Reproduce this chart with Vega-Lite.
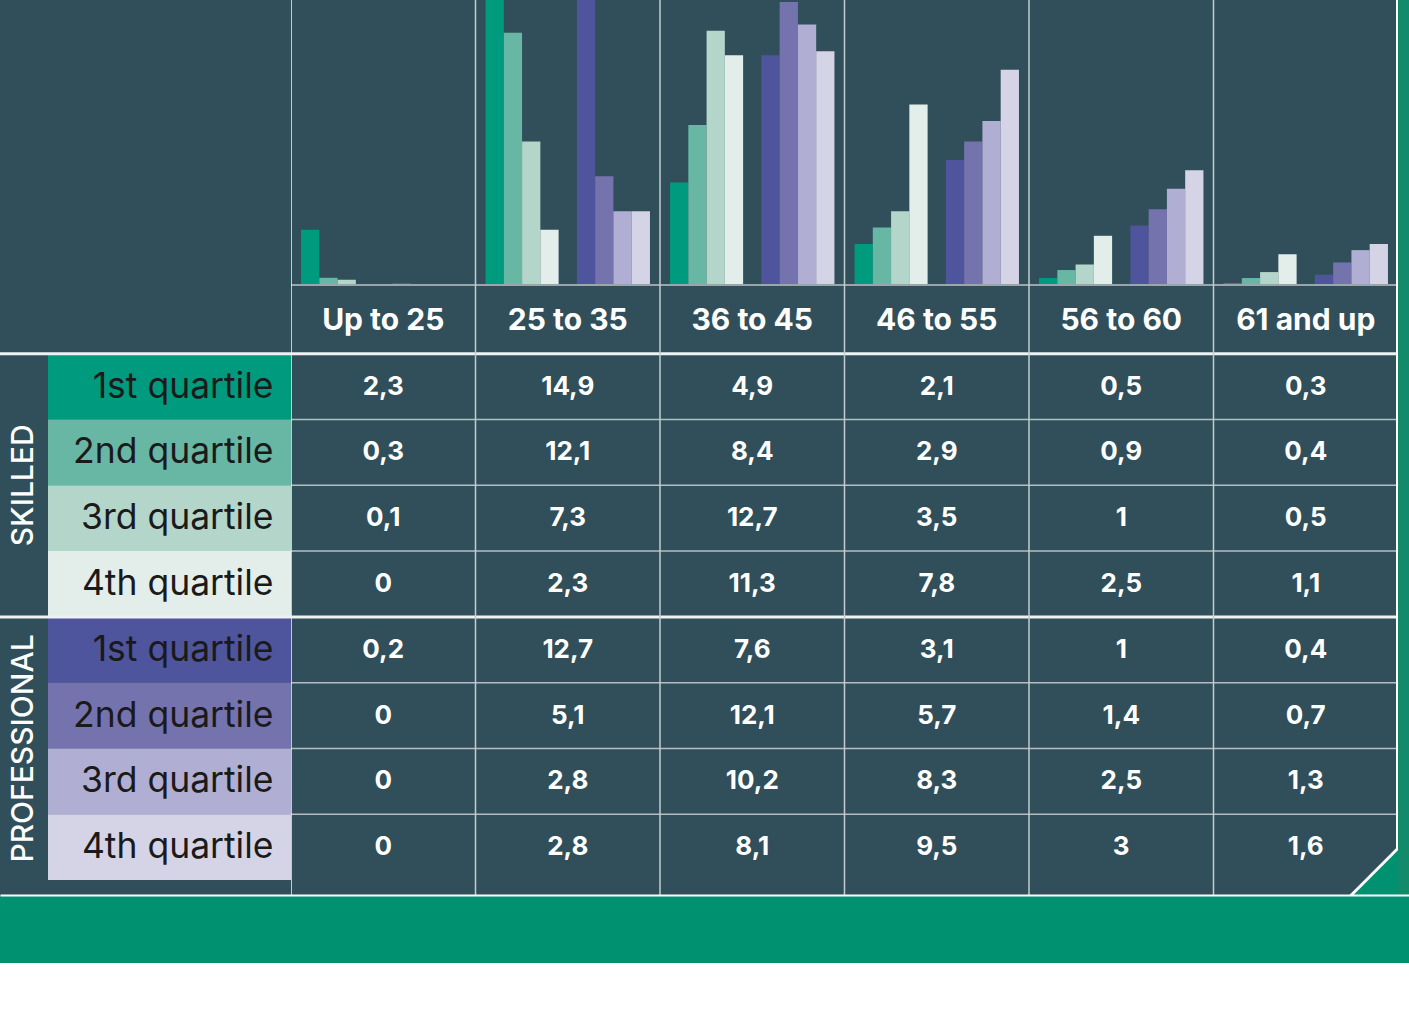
{
  "$schema": "https://vega.github.io/schema/vega-lite/v6.json",
  "padding": 0,
  "autosize": {"type": "pad"},
  "background": "#ffffff",
  "spacing": 0,
  "config": {
    "view": {"stroke": null},
    "font": "Inter",
    "concat": {"spacing": 0},
    "locale": {"number": {"decimal": ",", "thousands": ".", "grouping": [3], "currency": ["", " €"]}}
  },
  "datasets": {
    "ages": [
      {"age": "Up to 25"}, {"age": "25 to 35"}, {"age": "36 to 45"},
      {"age": "46 to 55"}, {"age": "56 to 60"}, {"age": "61 and up"}
    ],
    "groups": [{"group": "SKILLED"}, {"group": "PROFESSIONAL"}],
    "rows": [
      {"q": "S1", "group": "SKILLED", "label": "1st quartile"},
      {"q": "S2", "group": "SKILLED", "label": "2nd quartile"},
      {"q": "S3", "group": "SKILLED", "label": "3rd quartile"},
      {"q": "S4", "group": "SKILLED", "label": "4th quartile"},
      {"q": "P1", "group": "PROFESSIONAL", "label": "1st quartile"},
      {"q": "P2", "group": "PROFESSIONAL", "label": "2nd quartile"},
      {"q": "P3", "group": "PROFESSIONAL", "label": "3rd quartile"},
      {"q": "P4", "group": "PROFESSIONAL", "label": "4th quartile"}
    ],
    "cells": [
      {"age": "Up to 25", "q": "S1", "value": 2.3, "bar": 2.7},
      {"age": "Up to 25", "q": "S2", "value": 0.3, "bar": 0.35},
      {"age": "Up to 25", "q": "S3", "value": 0.1, "bar": 0.25},
      {"age": "Up to 25", "q": "S4", "value": 0, "bar": 0},
      {"age": "Up to 25", "q": "P1", "value": 0.2, "bar": 0.1},
      {"age": "Up to 25", "q": "P2", "value": 0, "bar": 0},
      {"age": "Up to 25", "q": "P3", "value": 0, "bar": 0},
      {"age": "Up to 25", "q": "P4", "value": 0, "bar": 0},
      {"age": "25 to 35", "q": "S1", "value": 14.9, "bar": 14.9},
      {"age": "25 to 35", "q": "S2", "value": 12.1, "bar": 12.3},
      {"age": "25 to 35", "q": "S3", "value": 7.3, "bar": 7.0},
      {"age": "25 to 35", "q": "S4", "value": 2.3, "bar": 2.7},
      {"age": "25 to 35", "q": "P1", "value": 12.7, "bar": 14.5},
      {"age": "25 to 35", "q": "P2", "value": 5.1, "bar": 5.3},
      {"age": "25 to 35", "q": "P3", "value": 2.8, "bar": 3.6},
      {"age": "25 to 35", "q": "P4", "value": 2.8, "bar": 3.6},
      {"age": "36 to 45", "q": "S1", "value": 4.9, "bar": 5.0},
      {"age": "36 to 45", "q": "S2", "value": 8.4, "bar": 7.8},
      {"age": "36 to 45", "q": "S3", "value": 12.7, "bar": 12.4},
      {"age": "36 to 45", "q": "S4", "value": 11.3, "bar": 11.2},
      {"age": "36 to 45", "q": "P1", "value": 7.6, "bar": 11.2},
      {"age": "36 to 45", "q": "P2", "value": 12.1, "bar": 13.8},
      {"age": "36 to 45", "q": "P3", "value": 10.2, "bar": 12.7},
      {"age": "36 to 45", "q": "P4", "value": 8.1, "bar": 11.4},
      {"age": "46 to 55", "q": "S1", "value": 2.1, "bar": 2.0},
      {"age": "46 to 55", "q": "S2", "value": 2.9, "bar": 2.8},
      {"age": "46 to 55", "q": "S3", "value": 3.5, "bar": 3.6},
      {"age": "46 to 55", "q": "S4", "value": 7.8, "bar": 8.8},
      {"age": "46 to 55", "q": "P1", "value": 3.1, "bar": 6.1},
      {"age": "46 to 55", "q": "P2", "value": 5.7, "bar": 7.0},
      {"age": "46 to 55", "q": "P3", "value": 8.3, "bar": 8.0},
      {"age": "46 to 55", "q": "P4", "value": 9.5, "bar": 10.5},
      {"age": "56 to 60", "q": "S1", "value": 0.5, "bar": 0.34},
      {"age": "56 to 60", "q": "S2", "value": 0.9, "bar": 0.73},
      {"age": "56 to 60", "q": "S3", "value": 1, "bar": 1.0},
      {"age": "56 to 60", "q": "S4", "value": 2.5, "bar": 2.4},
      {"age": "56 to 60", "q": "P1", "value": 1, "bar": 2.9},
      {"age": "56 to 60", "q": "P2", "value": 1.4, "bar": 3.7},
      {"age": "56 to 60", "q": "P3", "value": 2.5, "bar": 4.7},
      {"age": "56 to 60", "q": "P4", "value": 3, "bar": 5.6},
      {"age": "61 and up", "q": "S1", "value": 0.3, "bar": 0.1},
      {"age": "61 and up", "q": "S2", "value": 0.4, "bar": 0.34},
      {"age": "61 and up", "q": "S3", "value": 0.5, "bar": 0.63},
      {"age": "61 and up", "q": "S4", "value": 1.1, "bar": 1.5},
      {"age": "61 and up", "q": "P1", "value": 0.4, "bar": 0.5},
      {"age": "61 and up", "q": "P2", "value": 0.7, "bar": 1.1},
      {"age": "61 and up", "q": "P3", "value": 1.3, "bar": 1.7},
      {"age": "61 and up", "q": "P4", "value": 1.6, "bar": 2.0}
    ]
  },
  "vconcat": [
    {
      "spacing": 0,
      "bounds": "flush",
      "hconcat": [
        {
          "width": 48,
          "height": 895,
          "view": {"fill": "#304f5a", "stroke": null},
          "layer": [
            {
              "data": {"name": "groups"},
              "mark": {"type": "text", "clip": true, "angle": 270, "color": "#ffffff", "fontSize": 30, "fontWeight": 500, "align": "center", "baseline": "middle"},
              "encoding": {
                "y": {"field": "group", "type": "nominal", "scale": {"domain": ["SKILLED", "PROFESSIONAL"], "range": [353.8, 880], "paddingInner": 0, "paddingOuter": 0}, "axis": null},
                "text": {"field": "group"}
              }
            },
            {
              "data": {"name": "groups"},
              "mark": {"type": "rule", "clip": true, "color": "#eef2f2", "strokeWidth": 3},
              "encoding": {
                "y": {"field": "group", "type": "nominal", "bandPosition": 0, "scale": {"domain": ["SKILLED", "PROFESSIONAL"], "range": [353.8, 880], "paddingInner": 0, "paddingOuter": 0}, "axis": null}
              }
            }
          ]
        },
        {
          "width": 243,
          "height": 895,
          "view": {"fill": "#304f5a", "stroke": null},
          "layer": [
            {
              "data": {"name": "rows"},
              "mark": {"type": "rect", "clip": true},
              "encoding": {
                "y": {"field": "q", "type": "nominal", "scale": {"domain": ["H", "S1", "S2", "S3", "S4", "P1", "P2", "P3", "P4"], "range": [288, 880], "paddingInner": 0, "paddingOuter": 0}, "axis": null},
                "color": {"field": "q", "type": "nominal", "scale": {"domain": ["S1", "S2", "S3", "S4", "P1", "P2", "P3", "P4"], "range": ["#009b7e", "#68b6a4", "#b3d5ca", "#e3eeea", "#4f559c", "#7473ad", "#b0afd3", "#d5d4e7"]}, "legend": null}
              }
            },
            {
              "data": {"name": "rows"},
              "mark": {"type": "text", "clip": true, "align": "right", "baseline": "middle", "dx": 104, "fontSize": 35.5, "fontWeight": 400, "color": "#1a1a1a"},
              "encoding": {
                "y": {"field": "q", "type": "nominal", "axis": null},
                "text": {"field": "label"}
              }
            },
            {
              "data": {"name": "rows"},
              "transform": [{"filter": "datum.q === 'S1' || datum.q === 'P1'"}],
              "mark": {"type": "rule", "clip": true, "color": "#eef2f2", "strokeWidth": 3},
              "encoding": {
                "y": {"field": "q", "type": "nominal", "bandPosition": 0, "axis": null}
              }
            }
          ]
        },
        {
          "width": 1107,
          "height": 895,
          "view": {"fill": "#304f5a", "stroke": null},
          "resolve": {"scale": {"y": "independent"}},
          "layer": [
            {
              "layer": [
                {
                  "data": {"name": "cells"},
                  "mark": {"type": "bar", "clip": true},
                  "encoding": {
                    "x": {"field": "age", "type": "nominal", "sort": null, "scale": {"domain": ["Up to 25", "25 to 35", "36 to 45", "46 to 55", "56 to 60", "61 and up"], "paddingInner": 0, "paddingOuter": 0}, "axis": null},
                    "xOffset": {"field": "q", "type": "nominal", "scale": {"domain": ["S1", "S2", "S3", "S4", "gap", "P1", "P2", "P3", "P4"], "paddingInner": 0, "paddingOuter": 0.55}},
                    "y": {"field": "bar", "type": "quantitative", "scale": {"domain": [0, 13.9], "range": [285, 0], "nice": false}, "axis": null},
                    "color": {"field": "q", "type": "nominal", "scale": {"domain": ["S1", "S2", "S3", "S4", "P1", "P2", "P3", "P4"], "range": ["#009b7e", "#68b6a4", "#b3d5ca", "#e3eeea", "#3d4c98", "#7676b0", "#b1b0d4", "#d6d5e8"]}, "legend": null}
                  }
                },
                {
                  "data": {"values": [{}]},
                  "mark": {"type": "rule", "clip": true, "color": "#9aa6ab", "strokeWidth": 2},
                  "encoding": {
                    "y": {"datum": 0, "type": "quantitative"}
                  }
                }
              ]
            },
            {
              "layer": [
                {
                  "data": {"name": "ages"},
                  "mark": {"type": "text", "clip": true, "color": "#ffffff", "fontSize": 30, "fontWeight": 700, "baseline": "middle"},
                  "encoding": {
                    "x": {"field": "age", "type": "nominal", "axis": null},
                    "y": {"datum": "H", "type": "nominal", "scale": {"domain": ["H", "S1", "S2", "S3", "S4", "P1", "P2", "P3", "P4"], "range": [288, 880], "paddingInner": 0, "paddingOuter": 0}, "axis": null},
                    "text": {"field": "age"}
                  }
                },
                {
                  "data": {"name": "cells"},
                  "mark": {"type": "text", "clip": true, "color": "#ffffff", "fontSize": 26, "fontWeight": 700, "baseline": "middle"},
                  "encoding": {
                    "x": {"field": "age", "type": "nominal", "axis": null},
                    "y": {"field": "q", "type": "nominal", "axis": null},
                    "text": {"field": "value", "type": "quantitative", "format": "~g"}
                  }
                },
                {
                  "data": {"name": "rows"},
                  "mark": {"type": "rule", "clip": true},
                  "encoding": {
                    "y": {"field": "q", "type": "nominal", "bandPosition": 0, "axis": null},
                    "color": {"condition": {"test": "datum.q === 'S1' || datum.q === 'P1'", "value": "#eef2f2"}, "value": "#b4bec2"},
                    "strokeWidth": {"condition": {"test": "datum.q === 'S1' || datum.q === 'P1'", "value": 3}, "value": 1.5}
                  }
                },
                {
                  "data": {"name": "ages"},
                  "mark": {"type": "rule", "clip": true},
                  "encoding": {
                    "x": {"field": "age", "type": "nominal", "bandPosition": 0, "axis": null},
                    "color": {"condition": {"test": "datum.age === 'Up to 25'", "value": "#f2f5f5"}, "value": "#c3ccd0"},
                    "strokeWidth": {"value": 1.5}
                  }
                },
                {
                  "data": {"values": [{}]},
                  "mark": {"type": "rule", "clip": true, "color": "#ffffff", "strokeWidth": 4},
                  "encoding": {
                    "x": {"datum": "61 and up", "type": "nominal", "bandPosition": 1}
                  }
                },
                {
                  "data": {"values": [{"shape": "◢"}]},
                  "mark": {"type": "text", "clip": true, "font": "DejaVu Sans", "fontSize": 80, "color": "#ffffff", "align": "right", "baseline": "alphabetic", "dx": 8, "dy": 10},
                  "encoding": {
                    "x": {"datum": "61 and up", "type": "nominal", "bandPosition": 1},
                    "y": {"datum": "P4", "type": "nominal", "bandPosition": 1},
                    "text": {"field": "shape"}
                  }
                },
                {
                  "data": {"values": [{"shape": "◢"}]},
                  "mark": {"type": "text", "clip": true, "font": "DejaVu Sans", "fontSize": 80, "color": "#009270", "align": "right", "baseline": "alphabetic", "dx": 10, "dy": 12},
                  "encoding": {
                    "x": {"datum": "61 and up", "type": "nominal", "bandPosition": 1},
                    "y": {"datum": "P4", "type": "nominal", "bandPosition": 1},
                    "text": {"field": "shape"}
                  }
                }
              ]
            }
          ]
        },
        {
          "width": 11,
          "height": 895,
          "view": {"fill": "#138b6b", "stroke": null},
          "data": {"values": []},
          "mark": "rule",
          "encoding": {}
        }
      ]
    },
    {
      "width": 1409,
      "height": 68,
      "view": {"fill": "#009270", "stroke": null},
      "data": {"values": [{"a": 0}]},
      "mark": {"type": "rule", "opacity": 0},
      "encoding": {
        "x": {"field": "a", "type": "quantitative", "scale": {"domain": [0, 1]}, "axis": {"orient": "top", "domain": true, "domainColor": "#ffffff", "domainWidth": 2, "labels": false, "ticks": false, "grid": false, "title": null, "minExtent": 0, "maxExtent": 0}}
      }
    }
  ]
}
